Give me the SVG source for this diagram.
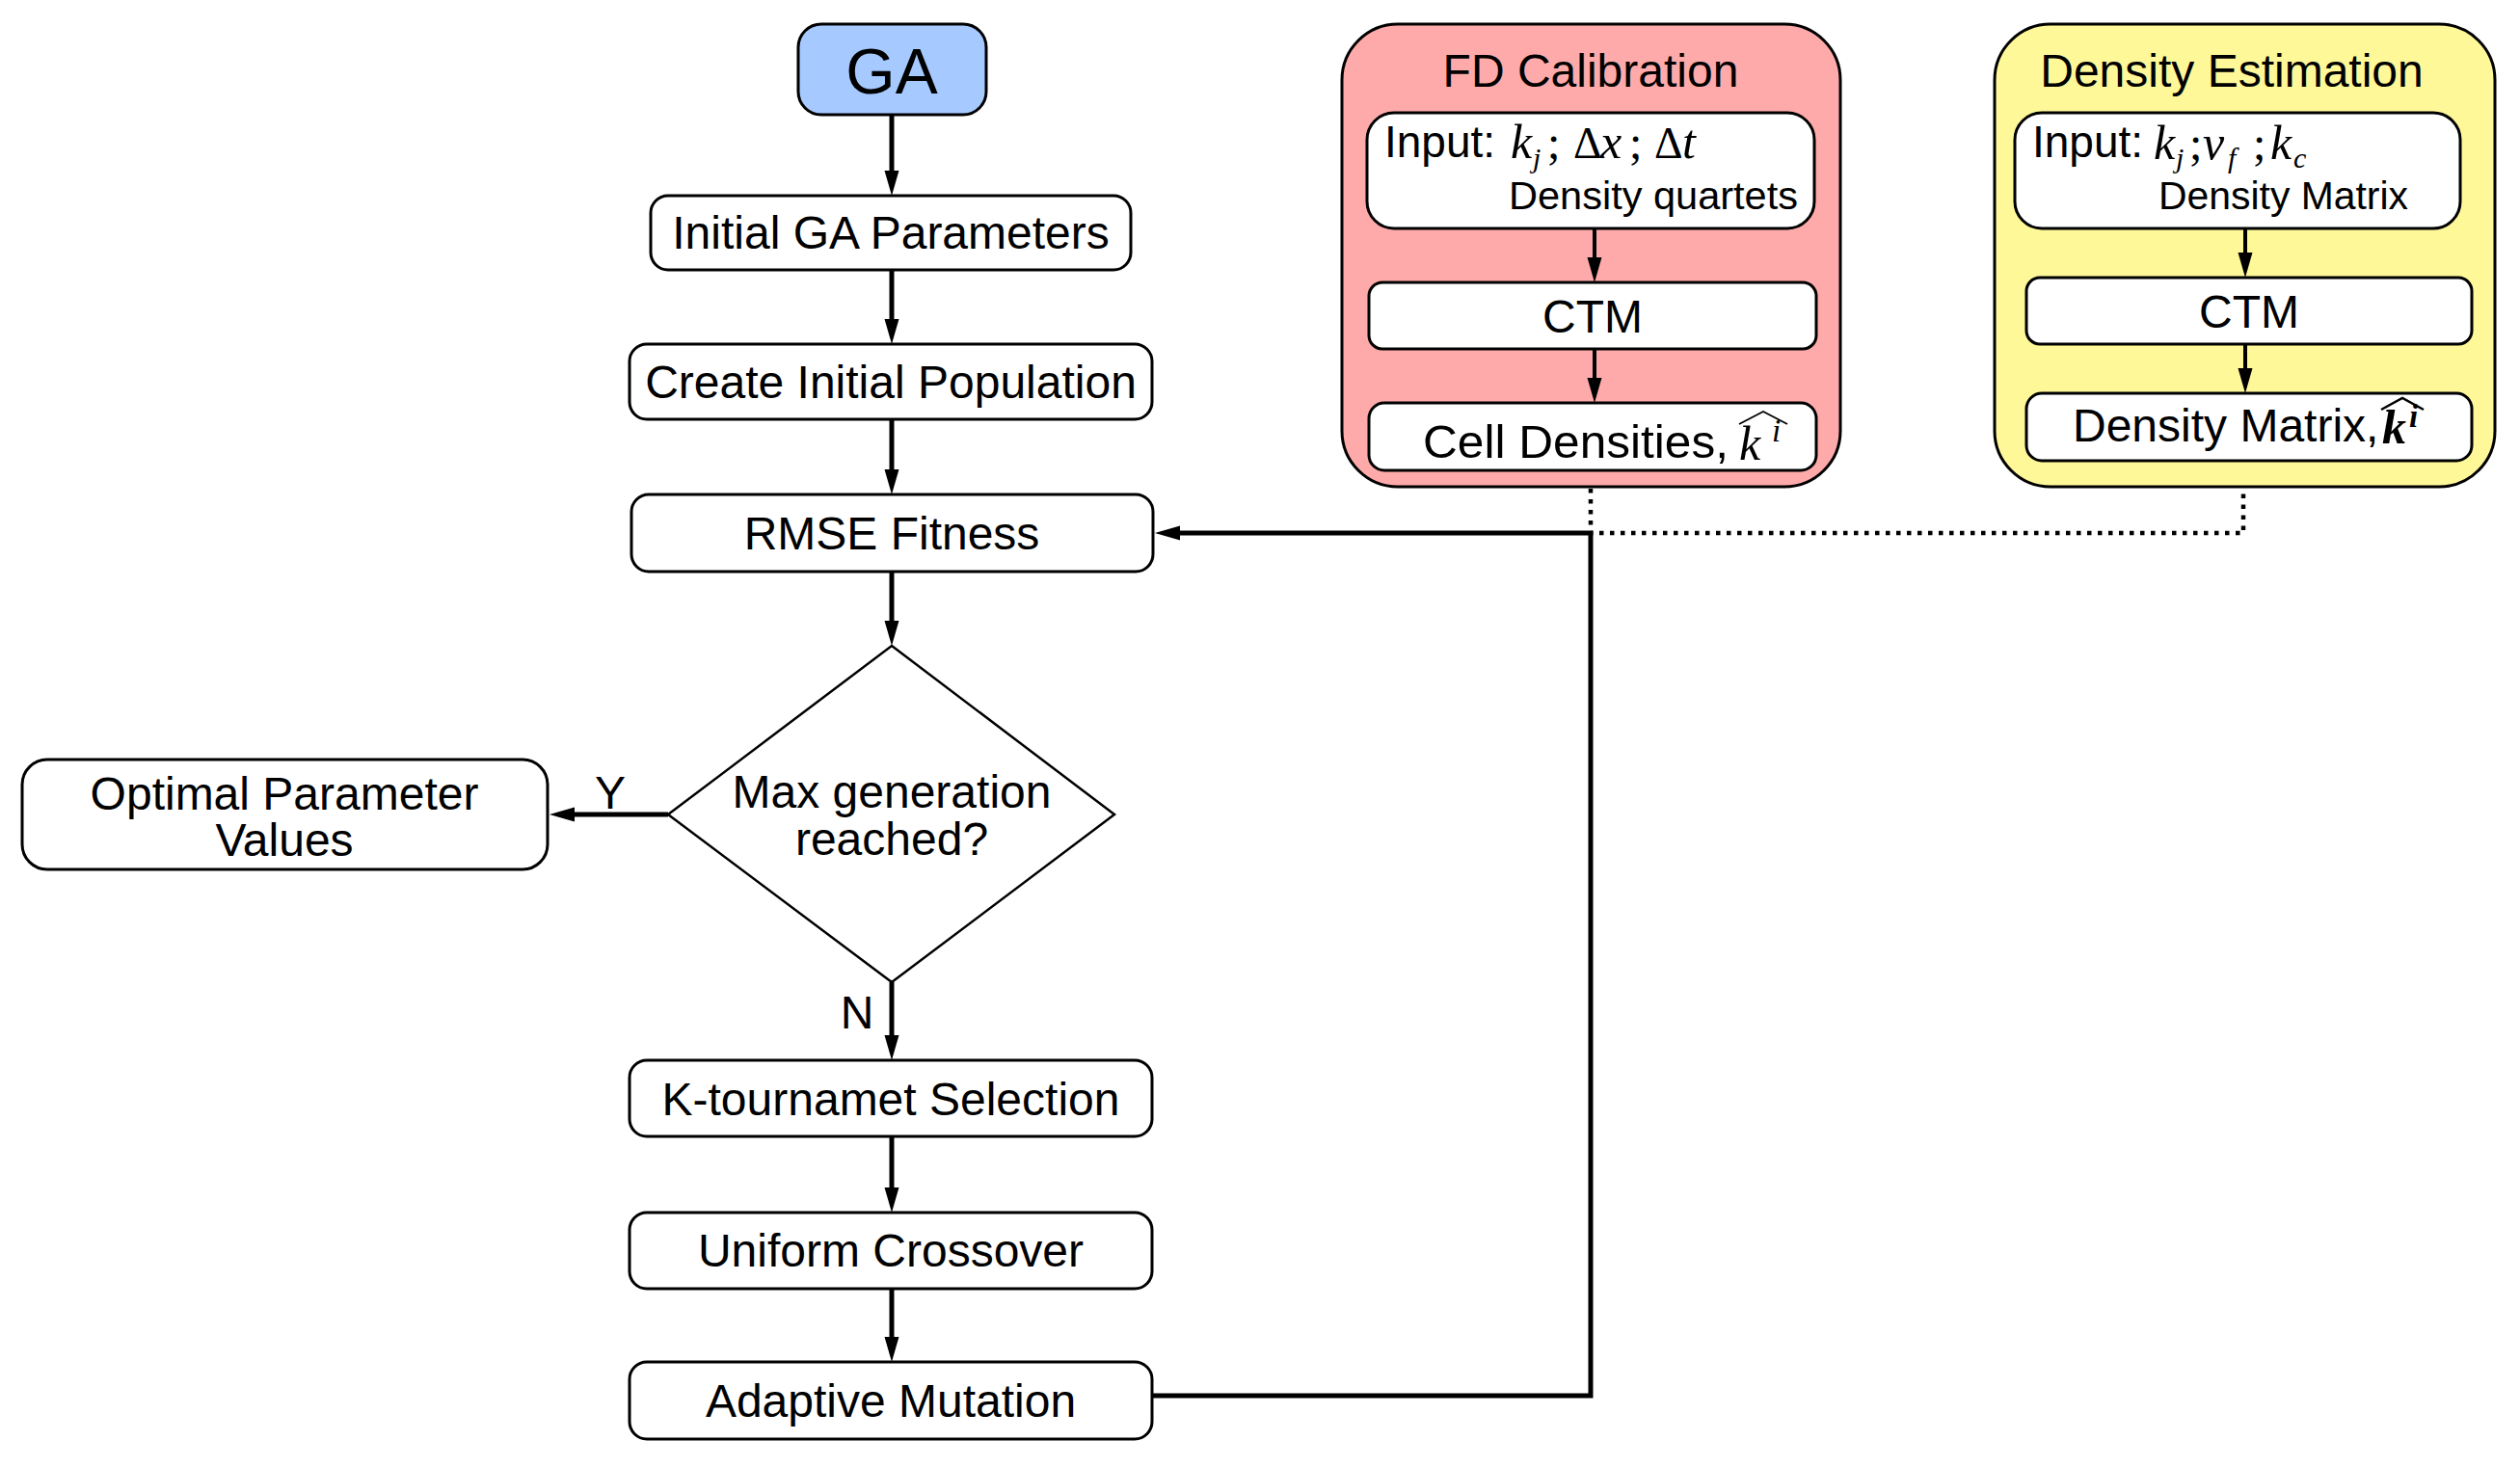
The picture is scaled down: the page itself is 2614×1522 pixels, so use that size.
<svg xmlns="http://www.w3.org/2000/svg" width="2614" height="1522" viewBox="0 0 2614 1522">
<style>
  .box{fill:#ffffff;stroke:#000;stroke-width:3}
  .lbl{font-family:"Liberation Sans",Arial,sans-serif;font-size:48px;fill:#000;text-anchor:middle}
  .sub{font-family:"Liberation Sans",Arial,sans-serif;font-size:40px;fill:#000}
  .m{font-family:"Liberation Serif","Times New Roman",serif;font-style:italic;fill:#000}
  .mu{font-family:"Liberation Serif","Times New Roman",serif;fill:#000}
  .conn{fill:none;stroke:#000;stroke-width:5}
  .inner{fill:none;stroke:#000;stroke-width:4}
  .dot{fill:none;stroke:#000;stroke-width:4.5;stroke-dasharray:4.5 6.5}
  .hat{fill:none;stroke:#000;stroke-width:1.8}
</style>
<defs>
  <marker id="ah" markerUnits="userSpaceOnUse" markerWidth="26" markerHeight="16" refX="6" refY="8" orient="auto">
    <path d="M0,0.5 L26,8 L0,15.5 z" fill="#000"/>
  </marker>
</defs>
<rect width="2614" height="1522" fill="#ffffff"/>

<g id="ga">
  <rect x="828" y="25" width="195" height="94" rx="24" fill="#a6c9ff" stroke="#000" stroke-width="3"/>
  <text class="lbl" x="925" y="97" style="font-size:66px">GA</text>
</g>
<g id="init-params">
  <rect class="box" x="675" y="203" width="498" height="77" rx="18"/>
  <text class="lbl" x="924" y="258">Initial GA Parameters</text>
</g>
<g id="create-pop">
  <rect class="box" x="653" y="357" width="542" height="78" rx="18"/>
  <text class="lbl" x="924" y="413">Create Initial Population</text>
</g>
<g id="rmse">
  <rect class="box" x="655" y="513" width="541" height="80" rx="18"/>
  <text class="lbl" x="925" y="570">RMSE Fitness</text>
</g>
<g id="max-gen">
  <polygon points="925,670 1156,845 925,1019 693,845" fill="#fff" stroke="#000" stroke-width="2.5"/>
  <text class="lbl" x="925" y="838">Max generation</text>
  <text class="lbl" x="925" y="887">reached?</text>
</g>
<g id="optimal">
  <rect class="box" x="23" y="788" width="545" height="114" rx="26"/>
  <text class="lbl" x="295" y="840">Optimal Parameter</text>
  <text class="lbl" x="295" y="888">Values</text>
</g>
<g id="selection">
  <rect class="box" x="653" y="1100" width="542" height="79" rx="18"/>
  <text class="lbl" x="924" y="1157">K-tournamet Selection</text>
</g>
<g id="crossover">
  <rect class="box" x="653" y="1258" width="542" height="79" rx="18"/>
  <text class="lbl" x="924" y="1314">Uniform Crossover</text>
</g>
<g id="mutation">
  <rect class="box" x="653" y="1413" width="542" height="80" rx="18"/>
  <text class="lbl" x="924" y="1470">Adaptive Mutation</text>
</g>

<g id="fd-calibration">
  <rect x="1392" y="25" width="517" height="480" rx="58" fill="#ffaaaa" stroke="#000" stroke-width="3"/>
  <text class="lbl" x="1650" y="90">FD Calibration</text>
  <g id="fd-input">
    <rect class="box" x="1418" y="117" width="464" height="120" rx="28"/>
    <text class="sub" x="1436" y="163" style="font-size:46px">Input:</text>
    <text class="m" x="1567" y="164" style="font-size:50px">k</text>
    <text class="m" x="1590" y="174" style="font-size:30px">j</text>
    <text class="mu" x="1605" y="164" style="font-size:48px">;</text>
    <text class="mu" x="1632" y="164" style="font-size:46px">Δ</text>
    <text class="m" x="1660" y="164" style="font-size:50px">x</text>
    <text class="mu" x="1690" y="164" style="font-size:48px">;</text>
    <text class="mu" x="1716" y="164" style="font-size:46px">Δ</text>
    <text class="m" x="1745" y="164" style="font-size:50px">t</text>
    <text class="sub" x="1565" y="217" textLength="300" lengthAdjust="spacingAndGlyphs">Density quartets</text>
  </g>
  <g id="fd-ctm">
    <rect class="box" x="1420" y="293" width="464" height="69" rx="14"/>
    <text class="lbl" x="1652" y="345">CTM</text>
  </g>
  <g id="fd-cell">
    <rect class="box" x="1420" y="418" width="464" height="70" rx="16"/>
    <text class="sub" x="1476" y="475" style="font-size:48px" textLength="317" lengthAdjust="spacingAndGlyphs">Cell Densities,</text>
    <text class="m" x="1804" y="477" style="font-size:50px">k</text>
    <text class="m" x="1838" y="458" style="font-size:33px">i</text>
    <path class="hat" d="M1804,440 L1829,427 L1854,440"/>
  </g>
</g>

<g id="density-estimation">
  <rect x="2069" y="25" width="519" height="480" rx="58" fill="#fff899" stroke="#000" stroke-width="3"/>
  <text class="lbl" x="2315" y="90">Density Estimation</text>
  <g id="de-input">
    <rect class="box" x="2090" y="117" width="462" height="120" rx="28"/>
    <text class="sub" x="2108" y="163" style="font-size:46px">Input:</text>
    <text class="m" x="2234" y="165" style="font-size:50px">k</text>
    <text class="m" x="2257" y="174" style="font-size:30px">j</text>
    <text class="mu" x="2271" y="165" style="font-size:48px">;</text>
    <text class="m" x="2285" y="165" style="font-size:50px">v</text>
    <text class="m" x="2311" y="174" style="font-size:30px">f</text>
    <text class="mu" x="2337" y="165" style="font-size:48px">;</text>
    <text class="m" x="2355" y="165" style="font-size:50px">k</text>
    <text class="m" x="2379" y="174" style="font-size:30px">c</text>
    <text class="sub" x="2239" y="217" textLength="259" lengthAdjust="spacingAndGlyphs">Density Matrix</text>
  </g>
  <g id="de-ctm">
    <rect class="box" x="2102" y="288" width="462" height="69" rx="14"/>
    <text class="lbl" x="2333" y="340">CTM</text>
  </g>
  <g id="de-matrix">
    <rect class="box" x="2102" y="408" width="462" height="70" rx="16"/>
    <text class="sub" x="2150" y="458" style="font-size:48px">Density Matrix,</text>
    <text class="m" x="2471" y="460" style="font-size:50px;font-weight:bold">k</text>
    <text class="m" x="2499" y="443" style="font-size:33px;font-weight:bold">i</text>
    <path class="hat" d="M2470,425 L2492,413 L2514,425" style="stroke-width:2.5"/>
  </g>
</g>

<g id="connectors">
  <line class="conn" x1="925" y1="119" x2="925" y2="183" marker-end="url(#ah)"/>
  <line class="conn" x1="925" y1="280" x2="925" y2="337" marker-end="url(#ah)"/>
  <line class="conn" x1="925" y1="435" x2="925" y2="493" marker-end="url(#ah)"/>
  <line class="conn" x1="925" y1="593" x2="925" y2="650" marker-end="url(#ah)"/>
  <line class="conn" x1="925" y1="1019" x2="925" y2="1080" marker-end="url(#ah)"/>
  <line class="conn" x1="925" y1="1179" x2="925" y2="1238" marker-end="url(#ah)"/>
  <line class="conn" x1="925" y1="1337" x2="925" y2="1393" marker-end="url(#ah)"/>
  <line class="conn" x1="693" y1="845" x2="590" y2="845" marker-end="url(#ah)"/>
  <path class="conn" d="M1196,1448 H1650 V553 H1218" marker-end="url(#ah)"/>
  <path class="dot" d="M1650,507 V553 H2327 V507"/>
  <line class="inner" x1="1654" y1="238" x2="1654" y2="273" marker-end="url(#ah)"/>
  <line class="inner" x1="1654" y1="363" x2="1654" y2="398" marker-end="url(#ah)"/>
  <line class="inner" x1="2329" y1="238" x2="2329" y2="268" marker-end="url(#ah)"/>
  <line class="inner" x1="2329" y1="358" x2="2329" y2="388" marker-end="url(#ah)"/>
  <text class="lbl" x="633" y="839">Y</text>
  <text class="lbl" x="889" y="1067">N</text>
</g>
</svg>
